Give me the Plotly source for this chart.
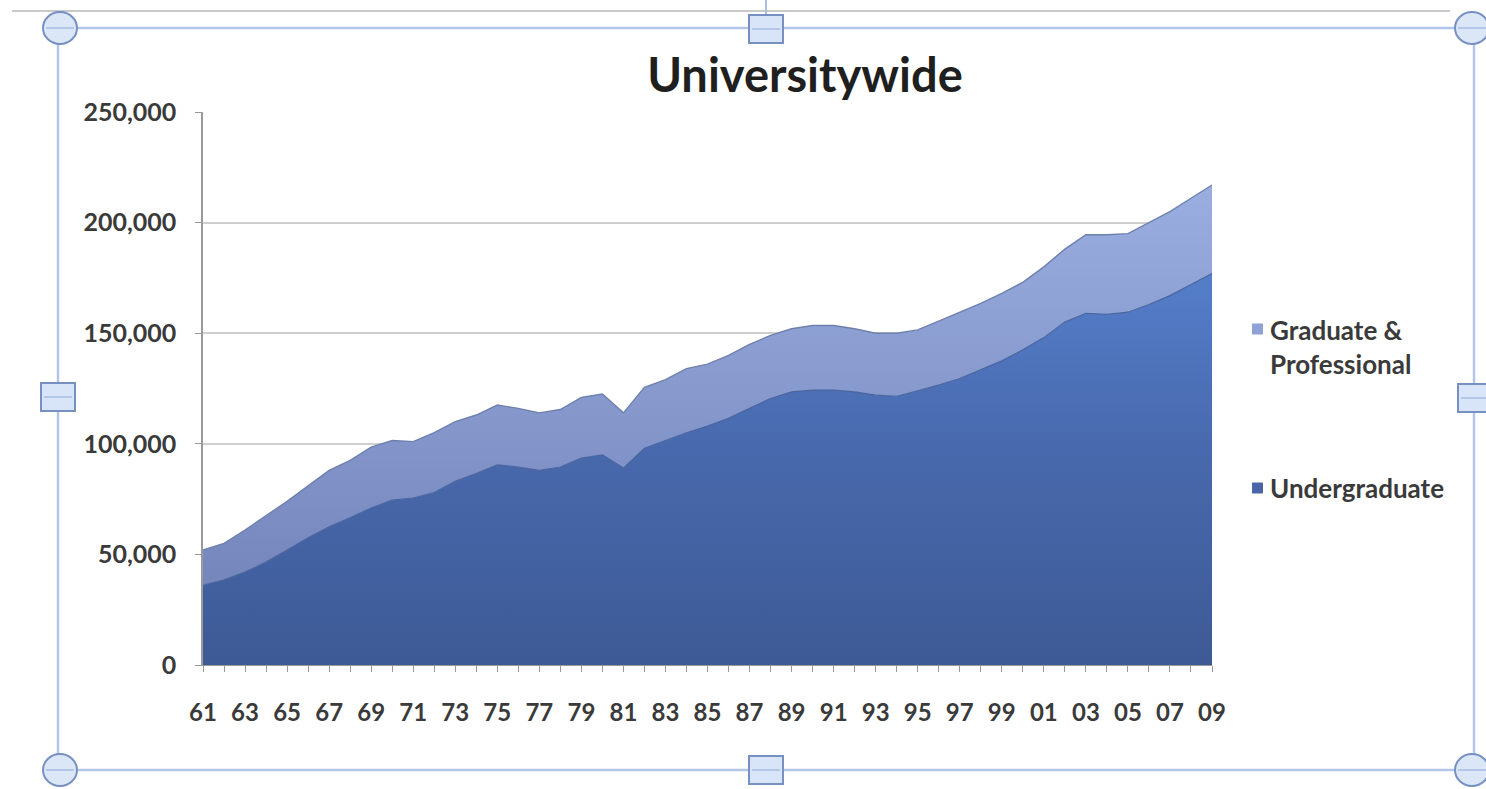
import plotly.graph_objects as go

# Enrollment by fall term, 1961-2009
years = list(range(1961, 2010))
tick_years = list(range(1961, 2010, 2))
tick_labels = [f"{y % 100:02d}" for y in tick_years]

undergraduate = [
    36000, 38500, 42000, 46500, 52000, 57500, 62500, 66500, 71000, 74500,
    75500, 78000, 83000, 86500, 90500, 89500, 88000, 89500, 93500, 95000,
    89000, 98000, 101500, 105000, 108000, 111500, 116000, 120500, 123500, 124300,
    124300, 123500, 122000, 121500, 124000, 126500, 129500, 133500, 137500, 142500,
    148000, 155000, 159000, 158500, 159500, 163000, 167000, 172000, 177000,
]
graduate_professional = [
    16000, 16500, 19000, 21000, 22000, 23500, 25500, 26000, 27500, 27000,
    25500, 27000, 27000, 26500, 27000, 26500, 26000, 26000, 27500, 27500,
    25000, 27500, 27500, 29000, 28000, 28500, 29000, 28500, 28500, 29200,
    29200, 28500, 28000, 28500, 27500, 29000, 30000, 30000, 30500, 30500,
    32000, 33000, 35500, 36000, 35500, 37000, 38000, 39000, 40000,
]

W, H = 1486, 789
L, R, T, B = 203, 1212, 112, 665


def px(x):
    return (x - L) / (R - L)


def py(y):
    return (B - y) / (B - T)


TEXT = "#3a3a3a"
FONT = "Lato"

fig = go.Figure()
fig.add_trace(go.Scatter(
    x=years, y=undergraduate, name="Undergraduate", stackgroup="enr",
    mode="lines", line=dict(color="#49649f", width=1.2),
    fillgradient=dict(type="vertical", start=0, stop=180000,
                      colorscale=[[0, "#3d5a95"], [0.55, "#4869ad"], [1, "#557fcb"]]),
))
fig.add_trace(go.Scatter(
    x=years, y=graduate_professional, name="Graduate & Professional", stackgroup="enr",
    mode="lines", line=dict(color="#6f80ad", width=1.4),
    fillgradient=dict(type="vertical", start=40000, stop=218000,
                      colorscale=[[0, "#7687bd"], [1, "#9aaee0"]]),
))

shapes = []
ann = []

# spreadsheet chrome around the chart object
shapes.append(dict(type="line", xref="paper", yref="paper",
                   x0=px(12), x1=px(1450), y0=py(11), y1=py(11),
                   line=dict(color="#c9c9c9", width=2), layer="below"))
shapes.append(dict(type="line", xref="paper", yref="paper",
                   x0=px(766), x1=px(766), y0=py(0), y1=py(16),
                   line=dict(color="#a9bde3", width=2)))
frame = dict(color="#b3c6ea", width=2.5)
for x0, y0, x1, y1 in [(58, 28, 1474, 28), (58, 770, 1474, 770),
                       (58, 28, 58, 770), (1474, 28, 1474, 770)]:
    shapes.append(dict(type="line", xref="paper", yref="paper",
                       x0=px(x0), x1=px(x1), y0=py(y0), y1=py(y1), line=frame))
handle_line = dict(color="#7690c2", width=2)
for cx, cy in [(60, 28), (1472, 28), (60, 770), (1472, 770)]:
    shapes.append(dict(type="circle", xref="paper", yref="paper",
                       x0=px(cx - 17), x1=px(cx + 17), y0=py(cy - 16), y1=py(cy + 16),
                       fillcolor="#dbe6f7", line=handle_line))
    shapes.append(dict(type="line", xref="paper", yref="paper",
                       x0=px(cx - 14), x1=px(cx + 14), y0=py(cy), y1=py(cy),
                       line=dict(color="#a9bde3", width=1.5)))
for cx, cy in [(766, 29), (766, 770), (58, 397), (1475, 398)]:
    shapes.append(dict(type="rect", xref="paper", yref="paper",
                       x0=px(cx - 17), x1=px(cx + 17), y0=py(cy - 14), y1=py(cy + 14),
                       fillcolor="#d8e4f7", line=handle_line))
    shapes.append(dict(type="line", xref="paper", yref="paper",
                       x0=px(cx - 14), x1=px(cx + 14), y0=py(cy), y1=py(cy),
                       line=dict(color="#a9bde3", width=1.5)))

# legend
legend_items = [("Graduate &<br>Professional", "#8fa2d6", 329, 347),
                ("Undergraduate", "#4a66a8", 488, 488)]
for label, color, sy, ty in legend_items:
    shapes.append(dict(type="rect", xref="paper", yref="paper",
                       x0=px(1252), x1=px(1263), y0=py(sy - 5.5), y1=py(sy + 5.5),
                       fillcolor=color, line=dict(width=0)))
    ann.append(dict(text=label, xref="paper", yref="paper", x=px(1268), y=py(ty),
                    xanchor="left", yanchor="middle", align="left", showarrow=False,
                    font=dict(family=FONT, size=26, color=TEXT, weight="bold")))

fig.update_layout(
    width=W, height=H,
    margin=dict(l=L, r=W - R, t=T, b=H - B),
    paper_bgcolor="white", plot_bgcolor="white",
    showlegend=False,
    title=dict(text="Universitywide", xref="container", x=805 / W, xanchor="center",
               y=1 - 76 / H, yanchor="middle",
               font=dict(family=FONT, size=47, color="#1f1f1f", weight="bold")),
    font=dict(family=FONT, color=TEXT),
    shapes=shapes, annotations=ann,
    xaxis=dict(range=[1961, 2009], tickmode="array", tickvals=tick_years,
               ticktext=tick_labels, showgrid=False, zeroline=False,
               showline=True, linecolor="#9a9a9a", linewidth=1,
               ticks="outside", ticklen=6, tickcolor="#9a9a9a",
               ticklabelstandoff=20,
               minor=dict(ticks="outside", ticklen=6, tickcolor="#9a9a9a", dtick=1),
               tickfont=dict(family=FONT, size=24, color=TEXT, weight="bold")),
    yaxis=dict(range=[0, 250000], tickvals=[0, 50000, 100000, 150000, 200000, 250000],
               tickformat=",d", showgrid=True, gridcolor="#cfcfcf", gridwidth=1.5,
               zeroline=False, showline=True, linecolor="#9a9a9a", linewidth=1.5,
               ticks="outside", ticklen=6, tickcolor="#9a9a9a",
               ticklabelstandoff=14,
               tickfont=dict(family=FONT, size=25, color=TEXT, weight="bold")),
)

fig.write_html("out.html")
